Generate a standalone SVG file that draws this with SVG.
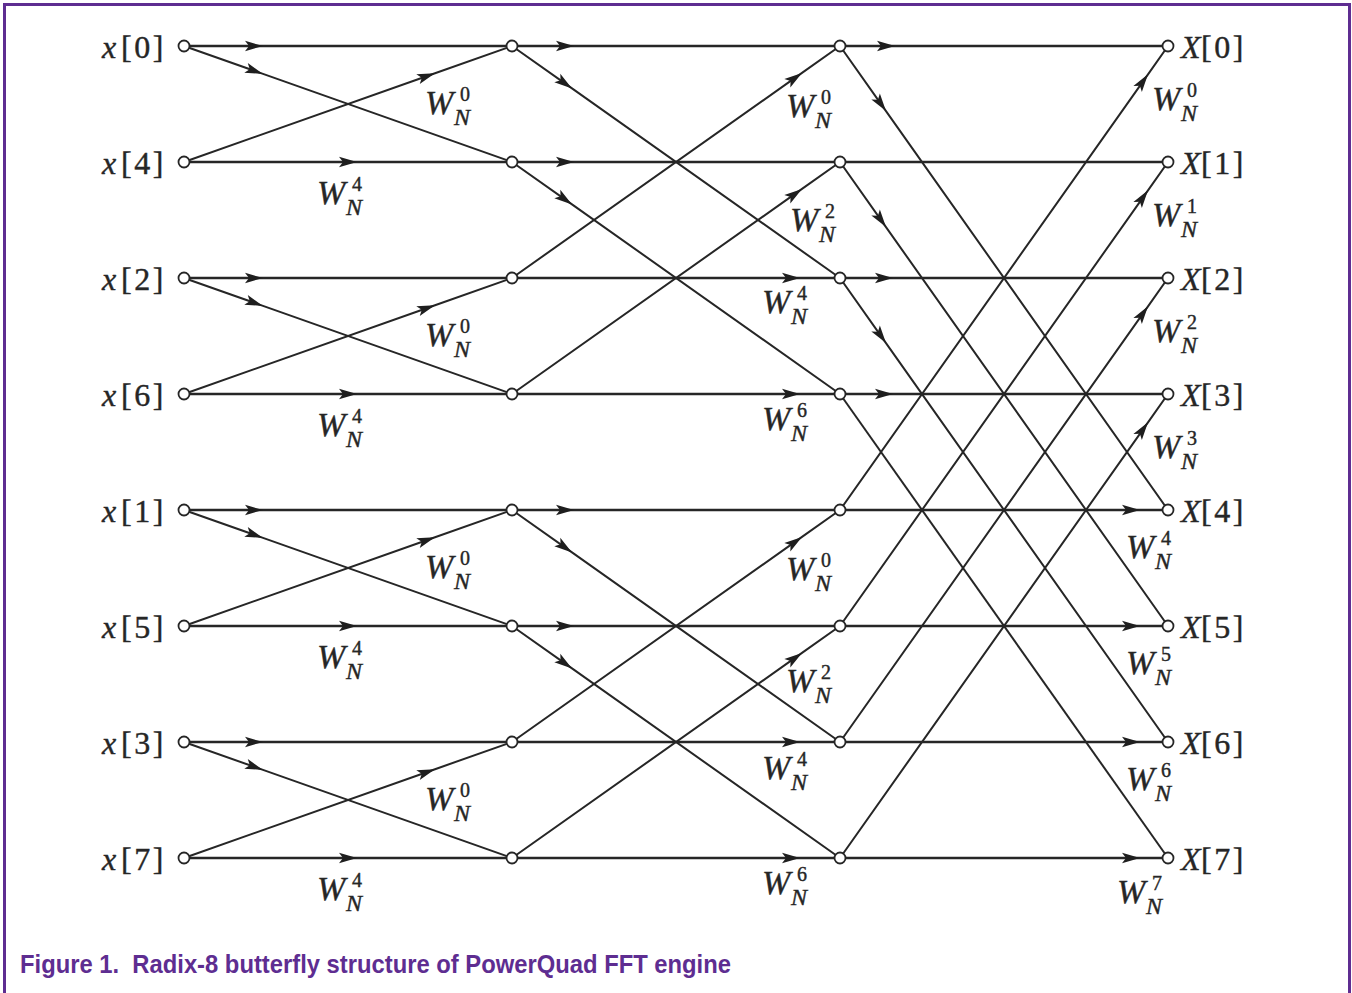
<svg xmlns="http://www.w3.org/2000/svg" width="1352" height="993" viewBox="0 0 1352 993">
  <style>
    .ln { fill: none; stroke: #262626; stroke-width: 2; marker-mid: url(#ah); }
    .h { stroke-width: 2.5; }
    .plain { marker-mid: none; }
    .nd { fill: #ffffff; stroke: #262626; stroke-width: 1.8; }
    .lbl { font-family: "Liberation Serif", "Times New Roman", serif; font-size: 32px; fill: #262626; stroke: #262626; stroke-width: 0.4; }
    .it { font-style: italic; }
    .br { letter-spacing: 2.5px; }
    .tw { font-family: "Liberation Serif", "Times New Roman", serif; fill: #262626; stroke: #262626; stroke-width: 0.4; }
    .tw .w { font-size: 34px; font-style: italic; }
    .tw .n { font-size: 24px; font-style: italic; }
    .tw .s { font-size: 20px; }
    .cap { font-family: "Liberation Sans", Arial, sans-serif; font-weight: bold; font-size: 25px; fill: #5e2d91; }
  </style>
  <defs>
    <marker id="ah" viewBox="-19 -6 20 12" refX="0" refY="0" markerWidth="20" markerHeight="12" markerUnits="userSpaceOnUse" orient="auto">
      <path d="M0,0 L-18,-5.2 L-14,0 L-18,5.2 Z" fill="#1e1e1e"/>
    </marker>
  </defs>

  <rect x="0" y="0" width="1352" height="993" fill="#ffffff"/>

  <!-- frame -->
  <path d="M4.5,993 V4.5 H1349.5 V993" fill="none" stroke="#5e2d91" stroke-width="3"/>

  <g id="connectors">
    <!-- stage 1 : inputs to first column -->
    <path class="ln h" d="M184,46 L263,46 L512,46"/>
    <path class="ln" d="M184,46 L263,73.9 L512,162"/>
    <path class="ln" d="M184,162 L435,73.2 L512,46"/>
    <path class="ln h" d="M184,162 L357,162 L512,162"/>

    <path class="ln h" d="M184,278 L263,278 L512,278"/>
    <path class="ln" d="M184,278 L263,305.9 L512,394"/>
    <path class="ln" d="M184,394 L435,305.2 L512,278"/>
    <path class="ln h" d="M184,394 L357,394 L512,394"/>

    <path class="ln h" d="M184,510 L263,510 L512,510"/>
    <path class="ln" d="M184,510 L263,537.9 L512,626"/>
    <path class="ln" d="M184,626 L435,537.2 L512,510"/>
    <path class="ln h" d="M184,626 L357,626 L512,626"/>

    <path class="ln h" d="M184,742 L263,742 L512,742"/>
    <path class="ln" d="M184,742 L263,769.9 L512,858"/>
    <path class="ln" d="M184,858 L435,769.2 L512,742"/>
    <path class="ln h" d="M184,858 L357,858 L512,858"/>

    <!-- stage 2 -->
    <path class="ln h" d="M512,46 L574,46 L840,46"/>
    <path class="ln" d="M512,46 L572,88.4 L840,278"/>
    <path class="ln h" d="M512,162 L574,162 L840,162"/>
    <path class="ln" d="M512,162 L572,204.4 L840,394"/>
    <path class="ln" d="M512,278 L802,72.9 L840,46"/>
    <path class="ln h" d="M512,278 L800,278 L840,278"/>
    <path class="ln" d="M512,394 L802,188.9 L840,162"/>
    <path class="ln h" d="M512,394 L800,394 L840,394"/>

    <path class="ln h" d="M512,510 L574,510 L840,510"/>
    <path class="ln" d="M512,510 L572,552.4 L840,742"/>
    <path class="ln h" d="M512,626 L574,626 L840,626"/>
    <path class="ln" d="M512,626 L572,668.4 L840,858"/>
    <path class="ln" d="M512,742 L802,536.9 L840,510"/>
    <path class="ln h" d="M512,742 L800,742 L840,742"/>
    <path class="ln" d="M512,858 L802,652.9 L840,626"/>
    <path class="ln h" d="M512,858 L800,858 L840,858"/>

    <!-- stage 3 : to outputs -->
    <path class="ln h" d="M840,46 L895,46 L1168,46"/>
    <path class="ln h plain" d="M840,162 L1168,162"/>
    <path class="ln h" d="M840,278 L893,278 L1168,278"/>
    <path class="ln h" d="M840,394 L893,394 L1168,394"/>
    <path class="ln" d="M840,46 L886,111.1 L1168,510"/>
    <path class="ln" d="M840,162 L886,227.1 L1168,626"/>
    <path class="ln" d="M840,278 L886,343.1 L1168,742"/>
    <path class="ln plain" d="M840,394 L1168,858"/>
    <path class="ln" d="M840,510 L1148,74.3 L1168,46"/>
    <path class="ln" d="M840,626 L1148,190.3 L1168,162"/>
    <path class="ln" d="M840,742 L1148,306.3 L1168,278"/>
    <path class="ln" d="M840,858 L1148,422.3 L1168,394"/>
    <path class="ln h" d="M840,510 L1140,510 L1168,510"/>
    <path class="ln h" d="M840,626 L1140,626 L1168,626"/>
    <path class="ln h" d="M840,742 L1140,742 L1168,742"/>
    <path class="ln h" d="M840,858 L1140,858 L1168,858"/>

    <!-- twiddle factors -->
    <g id="twiddles">
      <text class="tw" transform="translate(425,114)"><tspan class="w" x="0" y="0">W</tspan><tspan class="n" x="29" y="11">N</tspan><tspan class="s" x="35" y="-13">0</tspan></text>
      <text class="tw" transform="translate(317,204)"><tspan class="w" x="0" y="0">W</tspan><tspan class="n" x="29" y="11">N</tspan><tspan class="s" x="35" y="-13">4</tspan></text>
      <text class="tw" transform="translate(425,346)"><tspan class="w" x="0" y="0">W</tspan><tspan class="n" x="29" y="11">N</tspan><tspan class="s" x="35" y="-13">0</tspan></text>
      <text class="tw" transform="translate(317,436)"><tspan class="w" x="0" y="0">W</tspan><tspan class="n" x="29" y="11">N</tspan><tspan class="s" x="35" y="-13">4</tspan></text>
      <text class="tw" transform="translate(425,578)"><tspan class="w" x="0" y="0">W</tspan><tspan class="n" x="29" y="11">N</tspan><tspan class="s" x="35" y="-13">0</tspan></text>
      <text class="tw" transform="translate(317,668)"><tspan class="w" x="0" y="0">W</tspan><tspan class="n" x="29" y="11">N</tspan><tspan class="s" x="35" y="-13">4</tspan></text>
      <text class="tw" transform="translate(425,810)"><tspan class="w" x="0" y="0">W</tspan><tspan class="n" x="29" y="11">N</tspan><tspan class="s" x="35" y="-13">0</tspan></text>
      <text class="tw" transform="translate(317,900)"><tspan class="w" x="0" y="0">W</tspan><tspan class="n" x="29" y="11">N</tspan><tspan class="s" x="35" y="-13">4</tspan></text>

      <text class="tw" transform="translate(786,117)"><tspan class="w" x="0" y="0">W</tspan><tspan class="n" x="29" y="11">N</tspan><tspan class="s" x="35" y="-13">0</tspan></text>
      <text class="tw" transform="translate(790,231)"><tspan class="w" x="0" y="0">W</tspan><tspan class="n" x="29" y="11">N</tspan><tspan class="s" x="35" y="-13">2</tspan></text>
      <text class="tw" transform="translate(762,313)"><tspan class="w" x="0" y="0">W</tspan><tspan class="n" x="29" y="11">N</tspan><tspan class="s" x="35" y="-13">4</tspan></text>
      <text class="tw" transform="translate(762,430)"><tspan class="w" x="0" y="0">W</tspan><tspan class="n" x="29" y="11">N</tspan><tspan class="s" x="35" y="-13">6</tspan></text>
      <text class="tw" transform="translate(786,580)"><tspan class="w" x="0" y="0">W</tspan><tspan class="n" x="29" y="11">N</tspan><tspan class="s" x="35" y="-13">0</tspan></text>
      <text class="tw" transform="translate(786,692)"><tspan class="w" x="0" y="0">W</tspan><tspan class="n" x="29" y="11">N</tspan><tspan class="s" x="35" y="-13">2</tspan></text>
      <text class="tw" transform="translate(762,779)"><tspan class="w" x="0" y="0">W</tspan><tspan class="n" x="29" y="11">N</tspan><tspan class="s" x="35" y="-13">4</tspan></text>
      <text class="tw" transform="translate(762,894)"><tspan class="w" x="0" y="0">W</tspan><tspan class="n" x="29" y="11">N</tspan><tspan class="s" x="35" y="-13">6</tspan></text>

      <text class="tw" transform="translate(1152,110)"><tspan class="w" x="0" y="0">W</tspan><tspan class="n" x="29" y="11">N</tspan><tspan class="s" x="35" y="-13">0</tspan></text>
      <text class="tw" transform="translate(1152,226)"><tspan class="w" x="0" y="0">W</tspan><tspan class="n" x="29" y="11">N</tspan><tspan class="s" x="35" y="-13">1</tspan></text>
      <text class="tw" transform="translate(1152,342)"><tspan class="w" x="0" y="0">W</tspan><tspan class="n" x="29" y="11">N</tspan><tspan class="s" x="35" y="-13">2</tspan></text>
      <text class="tw" transform="translate(1152,458)"><tspan class="w" x="0" y="0">W</tspan><tspan class="n" x="29" y="11">N</tspan><tspan class="s" x="35" y="-13">3</tspan></text>
      <text class="tw" transform="translate(1126,558)"><tspan class="w" x="0" y="0">W</tspan><tspan class="n" x="29" y="11">N</tspan><tspan class="s" x="35" y="-13">4</tspan></text>
      <text class="tw" transform="translate(1126,674)"><tspan class="w" x="0" y="0">W</tspan><tspan class="n" x="29" y="11">N</tspan><tspan class="s" x="35" y="-13">5</tspan></text>
      <text class="tw" transform="translate(1126,790)"><tspan class="w" x="0" y="0">W</tspan><tspan class="n" x="29" y="11">N</tspan><tspan class="s" x="35" y="-13">6</tspan></text>
      <text class="tw" transform="translate(1117,903)"><tspan class="w" x="0" y="0">W</tspan><tspan class="n" x="29" y="11">N</tspan><tspan class="s" x="35" y="-13">7</tspan></text>
    </g>
  </g>

  <!-- input nodes -->
  <g id="in0"><circle class="nd" cx="184" cy="46" r="5.5"/><text class="lbl" y="58"><tspan class="it" x="102">x</tspan><tspan class="br" x="121">[0]</tspan></text></g>
  <g id="in4"><circle class="nd" cx="184" cy="162" r="5.5"/><text class="lbl" y="174"><tspan class="it" x="102">x</tspan><tspan class="br" x="121">[4]</tspan></text></g>
  <g id="in2"><circle class="nd" cx="184" cy="278" r="5.5"/><text class="lbl" y="290"><tspan class="it" x="102">x</tspan><tspan class="br" x="121">[2]</tspan></text></g>
  <g id="in6"><circle class="nd" cx="184" cy="394" r="5.5"/><text class="lbl" y="406"><tspan class="it" x="102">x</tspan><tspan class="br" x="121">[6]</tspan></text></g>
  <g id="in1"><circle class="nd" cx="184" cy="510" r="5.5"/><text class="lbl" y="522"><tspan class="it" x="102">x</tspan><tspan class="br" x="121">[1]</tspan></text></g>
  <g id="in5"><circle class="nd" cx="184" cy="626" r="5.5"/><text class="lbl" y="638"><tspan class="it" x="102">x</tspan><tspan class="br" x="121">[5]</tspan></text></g>
  <g id="in3"><circle class="nd" cx="184" cy="742" r="5.5"/><text class="lbl" y="754"><tspan class="it" x="102">x</tspan><tspan class="br" x="121">[3]</tspan></text></g>
  <g id="in7"><circle class="nd" cx="184" cy="858" r="5.5"/><text class="lbl" y="870"><tspan class="it" x="102">x</tspan><tspan class="br" x="121">[7]</tspan></text></g>

  <!-- first butterfly column -->
  <g id="a0"><circle class="nd" cx="512" cy="46" r="5.5"/></g>
  <g id="a1"><circle class="nd" cx="512" cy="162" r="5.5"/></g>
  <g id="a2"><circle class="nd" cx="512" cy="278" r="5.5"/></g>
  <g id="a3"><circle class="nd" cx="512" cy="394" r="5.5"/></g>
  <g id="a4"><circle class="nd" cx="512" cy="510" r="5.5"/></g>
  <g id="a5"><circle class="nd" cx="512" cy="626" r="5.5"/></g>
  <g id="a6"><circle class="nd" cx="512" cy="742" r="5.5"/></g>
  <g id="a7"><circle class="nd" cx="512" cy="858" r="5.5"/></g>

  <!-- second butterfly column -->
  <g id="b0"><circle class="nd" cx="840" cy="46" r="5.5"/></g>
  <g id="b1"><circle class="nd" cx="840" cy="162" r="5.5"/></g>
  <g id="b2"><circle class="nd" cx="840" cy="278" r="5.5"/></g>
  <g id="b3"><circle class="nd" cx="840" cy="394" r="5.5"/></g>
  <g id="b4"><circle class="nd" cx="840" cy="510" r="5.5"/></g>
  <g id="b5"><circle class="nd" cx="840" cy="626" r="5.5"/></g>
  <g id="b6"><circle class="nd" cx="840" cy="742" r="5.5"/></g>
  <g id="b7"><circle class="nd" cx="840" cy="858" r="5.5"/></g>

  <!-- output nodes -->
  <g id="out0"><circle class="nd" cx="1168" cy="46" r="5.5"/><text class="lbl" y="58"><tspan class="it" x="1181">X</tspan><tspan class="br" x="1201">[0]</tspan></text></g>
  <g id="out1"><circle class="nd" cx="1168" cy="162" r="5.5"/><text class="lbl" y="174"><tspan class="it" x="1181">X</tspan><tspan class="br" x="1201">[1]</tspan></text></g>
  <g id="out2"><circle class="nd" cx="1168" cy="278" r="5.5"/><text class="lbl" y="290"><tspan class="it" x="1181">X</tspan><tspan class="br" x="1201">[2]</tspan></text></g>
  <g id="out3"><circle class="nd" cx="1168" cy="394" r="5.5"/><text class="lbl" y="406"><tspan class="it" x="1181">X</tspan><tspan class="br" x="1201">[3]</tspan></text></g>
  <g id="out4"><circle class="nd" cx="1168" cy="510" r="5.5"/><text class="lbl" y="522"><tspan class="it" x="1181">X</tspan><tspan class="br" x="1201">[4]</tspan></text></g>
  <g id="out5"><circle class="nd" cx="1168" cy="626" r="5.5"/><text class="lbl" y="638"><tspan class="it" x="1181">X</tspan><tspan class="br" x="1201">[5]</tspan></text></g>
  <g id="out6"><circle class="nd" cx="1168" cy="742" r="5.5"/><text class="lbl" y="754"><tspan class="it" x="1181">X</tspan><tspan class="br" x="1201">[6]</tspan></text></g>
  <g id="out7"><circle class="nd" cx="1168" cy="858" r="5.5"/><text class="lbl" y="870"><tspan class="it" x="1181">X</tspan><tspan class="br" x="1201">[7]</tspan></text></g>

  <text class="cap" x="20" y="973" textLength="711" lengthAdjust="spacingAndGlyphs" xml:space="preserve">Figure 1.  Radix-8 butterfly structure of PowerQuad FFT engine</text>
</svg>
